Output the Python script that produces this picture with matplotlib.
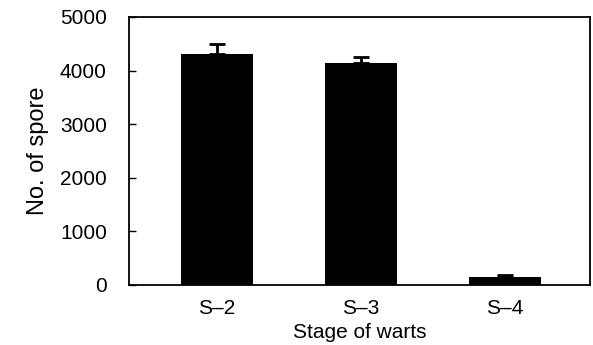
import numpy as np
import matplotlib.pyplot as plt

stages = ["S–2", "S–3", "S–4"]
spores = [4310, 4150, 150]
errors = [190, 110, 30]

plt.rcParams['font.family'] = ['Liberation Sans', 'DejaVu Sans']

fig = plt.figure(figsize=(5.93, 3.45), dpi=100)
ax = fig.add_axes([129/593, 1 - 285/345, (590 - 129)/593, (285 - 17)/345])

x = np.arange(len(stages))
ax.bar(x, spores, width=0.5, color='black',
       yerr=[np.zeros(len(errors)), errors], capsize=6,
       error_kw=dict(ecolor='black', elinewidth=2, capthick=2))

ax.set_xlim(-0.61, 2.59)
ax.set_ylim(0, 5000)
ax.set_yticks(range(0, 5001, 1000))
ax.set_xticks(x)
ax.set_xticklabels(stages)
ax.tick_params(axis='y', direction='in', length=5, width=1, labelsize=15, pad=16)
ax.tick_params(axis='x', length=0, labelsize=15, pad=10)
for s in ax.spines.values():
    s.set_linewidth(1.3)

ax.set_xlabel("Stage of warts", fontsize=15, labelpad=4)
ax.set_ylabel("No. of spore", fontsize=17, labelpad=8)

plt.savefig("out.png", dpi=100)
